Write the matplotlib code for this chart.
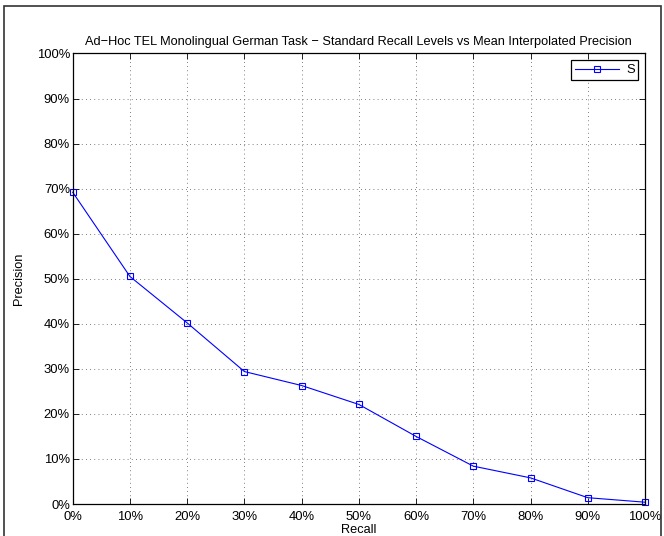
import matplotlib.pyplot as plt
from matplotlib.patches import Rectangle
from matplotlib.ticker import FuncFormatter

plt.rcParams['font.family'] = ['Liberation Sans', 'DejaVu Sans']

# standard recall levels and mean interpolated precision (in %)
recall = [0, 10, 20, 30, 40, 50, 60, 70, 80, 90, 100]
precision = [69.2, 50.5, 40.2, 29.4, 26.3, 22.1, 15.0, 8.4, 5.8, 1.4, 0.4]
run_name = "S"

fig = plt.figure(figsize=(6.64, 5.36), dpi=100)
ax = fig.add_axes([0.1095, 0.0597, 0.8619, 0.8405])

ax.plot(recall, precision, color="blue", lw=0.8, marker="s", ms=5,
        mfc="none", mec="blue", mew=0.8, label=run_name, clip_on=False)

ax.set_xlim(0, 100)
ax.set_ylim(0, 100)
ax.set_xticks(range(0, 101, 10))
ax.set_yticks(range(0, 101, 10))
pct = FuncFormatter(lambda v, p: "%d%%" % v)
ax.xaxis.set_major_formatter(pct)
ax.yaxis.set_major_formatter(pct)
ax.tick_params(direction="in", top=True, right=True, length=4, width=0.6,
               labelsize=9.4, colors="black")
ax.tick_params(axis="x", pad=5)
ax.tick_params(axis="y", pad=2)
ax.grid(True, linestyle=(0, (1, 4)), color="#555555", lw=0.6)
for s in ax.spines.values():
    s.set_linewidth(0.9)

ax.set_title("Ad\u2212Hoc TEL Monolingual German Task \u2212 Standard Recall Levels vs Mean Interpolated Precision",
             fontsize=9.2, pad=6)
ax.set_xlabel("Recall", fontsize=9.2, labelpad=1)
ax.set_ylabel("Precision", fontsize=9.2, labelpad=8)

leg = ax.legend(loc="upper right", fontsize=9.4, fancybox=False, framealpha=1,
                edgecolor="black", handlelength=3.4, borderpad=0.3,
                borderaxespad=0.5, handletextpad=0.5)
leg.get_frame().set_linewidth(0.9)

# outer figure border
fig.patches.append(Rectangle((4 / 664, -0.05), 657 / 664, 1.05 - 6 / 536,
                             transform=fig.transFigure, fill=False,
                             edgecolor="#333333", lw=1.2))

fig.savefig("out.png", dpi=100)
